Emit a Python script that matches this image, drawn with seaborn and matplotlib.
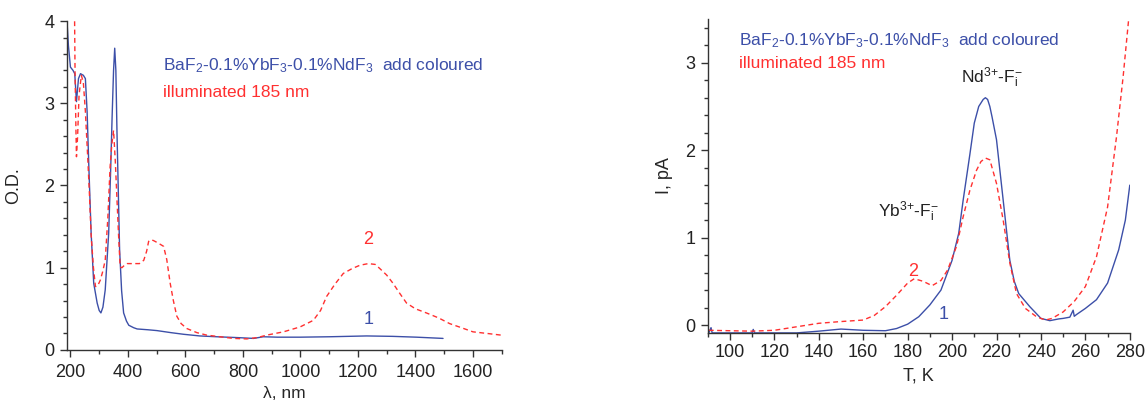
import numpy as np
import pandas as pd
import matplotlib
matplotlib.use("Agg")
import matplotlib.pyplot as plt
from matplotlib.ticker import MultipleLocator
import seaborn as sns

# Optical absorption spectra (O.D. vs wavelength)
wl_1 = [188, 193, 200, 209, 215, 221, 228, 235, 245, 252, 258, 264, 272, 281, 293, 300, 306,
        313, 321, 333, 340, 345, 350, 354, 358, 362, 371, 378, 385, 395, 403, 420, 432, 470,
        501, 550, 594, 650, 709, 780, 837, 871, 920, 999, 1100, 1230, 1320, 1404, 1496]
od_1 = [4.00, 3.70, 3.44, 3.40, 3.36, 3.02, 3.30, 3.36, 3.34, 3.30, 2.90, 2.23, 1.42, 0.81,
        0.57, 0.48, 0.45, 0.52, 0.73, 1.42, 2.20, 2.84, 3.40, 3.67, 3.40, 2.63, 1.22, 0.72,
        0.45, 0.35, 0.30, 0.27, 0.255, 0.245, 0.235, 0.21, 0.19, 0.17, 0.16, 0.15, 0.14, 0.16,
        0.155, 0.155, 0.16, 0.17, 0.165, 0.155, 0.14]

wl_2 = [214, 216, 219, 221, 225, 230, 238, 245, 252, 260, 266, 272, 280, 287, 295, 304, 312,
        321, 330, 338, 344, 350, 356, 362, 368, 373, 379, 388, 397, 420, 440, 455, 465, 472,
        480, 489, 505, 524, 535, 547, 558, 570, 585, 605, 640, 674, 720, 767, 813, 850, 883,
        941, 999, 1045, 1070, 1091, 1120, 1149, 1180, 1207, 1236, 1260, 1276, 1300, 1322, 1345,
        1369, 1400, 1438, 1480, 1519, 1560, 1600, 1650, 1698]
od_2 = [4.20, 3.40, 2.70, 2.35, 2.60, 3.10, 3.34, 3.25, 2.90, 2.35, 1.90, 1.40, 1.00, 0.77,
        0.78, 0.85, 0.95, 1.09, 1.60, 2.23, 2.50, 2.67, 2.30, 1.82, 1.35, 1.01, 1.00, 1.03,
        1.05, 1.05, 1.05, 1.09, 1.20, 1.32, 1.34, 1.33, 1.30, 1.26, 1.10, 0.81, 0.60, 0.41,
        0.32, 0.26, 0.21, 0.18, 0.16, 0.14, 0.134, 0.15, 0.18, 0.22, 0.28, 0.36, 0.48, 0.65,
        0.80, 0.93, 0.99, 1.03, 1.05, 1.04, 0.99, 0.91, 0.81, 0.69, 0.57, 0.50, 0.45, 0.39,
        0.32, 0.27, 0.22, 0.20, 0.18]

# Thermally stimulated depolarisation current (I vs T)
t_1 = [90.5, 91.5, 92, 95, 100, 105, 110, 110.5, 111, 115, 120, 130, 140, 150, 160, 170, 175,
       180, 185, 190, 195, 200, 203, 205, 208, 210, 212, 214, 215, 216, 217, 218, 220, 223,
       226, 228, 230, 235, 240, 244, 248, 250, 253, 254.5, 255, 256, 260, 265, 270, 275, 278,
       280]
i_1 = [-0.09, -0.03, -0.09, -0.09, -0.09, -0.09, -0.09, -0.05, -0.09, -0.09, -0.09, -0.09,
       -0.07, -0.046, -0.06, -0.065, -0.04, 0.01, 0.095, 0.23, 0.40, 0.74, 1.05, 1.43, 1.95,
       2.31, 2.50, 2.58, 2.60, 2.58, 2.50, 2.38, 2.12, 1.43, 0.74, 0.50, 0.36, 0.21, 0.076,
       0.05, 0.07, 0.076, 0.09, 0.17, 0.10, 0.12, 0.19, 0.29, 0.48, 0.86, 1.20, 1.60]

t_2 = [90.5, 100, 110, 120, 130, 140, 150, 160, 165, 170, 175, 180, 183, 187, 191, 195, 198,
       202, 205, 208, 211, 213, 215, 217, 220, 223, 226, 229, 233, 238, 242, 245, 250, 255,
       260, 265, 270, 274, 277, 279.5]
i_2 = [-0.06, -0.065, -0.07, -0.06, -0.02, 0.02, 0.04, 0.057, 0.11, 0.21, 0.34, 0.48, 0.53,
       0.50, 0.45, 0.51, 0.63, 0.90, 1.24, 1.54, 1.77, 1.87, 1.91, 1.89, 1.62, 1.20, 0.71, 0.36,
       0.19, 0.095, 0.057, 0.076, 0.15, 0.27, 0.44, 0.78, 1.35, 2.15, 2.84, 3.50]

legend_line1 = r"BaF$_2$-0.1%YbF$_3$-0.1%NdF$_3$  add coloured"
legend_line2 = "illuminated 185 nm"
label_nd = r"Nd$^{3{+}}$-F$_{\mathrm{i}}^{-}$"
label_yb = r"Yb$^{3{+}}$-F$_{\mathrm{i}}^{-}$"

BLUE = "#3c4fa8"
RED = "#ff3030"
DASH = (0, (3.5, 2.5))

sns.set_theme(style="ticks")
plt.rcParams["font.family"] = ["Liberation Sans", "DejaVu Sans"]
plt.rcParams["mathtext.fontset"] = "custom"
plt.rcParams["mathtext.rm"] = "Liberation Sans"
plt.rcParams["mathtext.it"] = "Liberation Sans:italic"
plt.rcParams["axes.linewidth"] = 1.0
plt.rcParams["axes.edgecolor"] = "#333333"

fig = plt.figure(figsize=(11.47, 4.05), dpi=100)
ax1 = fig.add_axes([0.0584, 0.136, 0.379, 0.812])
ax2 = fig.add_axes([0.617, 0.178, 0.368, 0.775])

spec1 = pd.DataFrame({"wl": wl_1, "od": od_1})
spec2 = pd.DataFrame({"wl": wl_2, "od": od_2})
tsd1 = pd.DataFrame({"T": t_1, "I": i_1})
tsd2 = pd.DataFrame({"T": t_2, "I": i_2})

sns.lineplot(data=spec1, x="wl", y="od", ax=ax1, color=BLUE, lw=1.0,
             estimator=None, sort=False)
sns.lineplot(data=spec2, x="wl", y="od", ax=ax1, color=RED, lw=1.0,
             linestyle=DASH, estimator=None, sort=False)
sns.lineplot(data=tsd1, x="T", y="I", ax=ax2, color=BLUE, lw=1.0,
             estimator=None, sort=False)
sns.lineplot(data=tsd2, x="T", y="I", ax=ax2, color=RED, lw=1.0,
             linestyle=DASH, estimator=None, sort=False)

# Left panel axes
ax1.set_xlim(188, 1700)
ax1.set_ylim(0, 4)
ax1.xaxis.set_major_locator(MultipleLocator(200))
ax1.xaxis.set_minor_locator(MultipleLocator(100))
ax1.yaxis.set_major_locator(MultipleLocator(1))
ax1.yaxis.set_minor_locator(MultipleLocator(0.2))
ax1.set_xlabel("λ, nm", fontsize=12.5, labelpad=4)
ax1.set_ylabel("O.D.", fontsize=13, labelpad=16)

# Right panel axes
ax2.set_xlim(90, 280)
ax2.set_ylim(-0.09, 3.5)
ax2.xaxis.set_major_locator(MultipleLocator(20))
ax2.xaxis.set_minor_locator(MultipleLocator(10))
ax2.yaxis.set_major_locator(MultipleLocator(1))
ax2.yaxis.set_minor_locator(MultipleLocator(0.2))
ax2.set_xlabel("T, K", fontsize=13, labelpad=5)
ax2.set_ylabel("I, pA", fontsize=13, labelpad=9)

for ax in (ax1, ax2):
    sns.despine(ax=ax)
    ax.tick_params(which="major", direction="out", length=5, width=1.0,
                   labelsize=13, colors="#333333", labelcolor="#222222")
    ax.tick_params(which="minor", direction="out", length=3, width=1.0, colors="#333333")
    ax.tick_params(axis="y", pad=4)
ax1.tick_params(axis="x", pad=5)
ax2.tick_params(axis="x", pad=3)

# Annotations, left panel
ax1.text(0.142, 0.827, legend_line1, transform=fig.transFigure, fontsize=12.5,
         color=BLUE, va="baseline")
ax1.text(0.142, 0.760, legend_line2, transform=fig.transFigure, fontsize=12.5,
         color=RED, va="baseline")
ax1.text(1237, 1.34, "2", fontsize=13, color=RED, ha="center", va="center")
ax1.text(1237, 0.365, "1", fontsize=13, color=BLUE, ha="center", va="center")

# Annotations, right panel
ax2.text(0.644, 0.889, legend_line1, transform=fig.transFigure, fontsize=12.5,
         color=BLUE, va="baseline")
ax2.text(0.644, 0.832, legend_line2, transform=fig.transFigure, fontsize=12.5,
         color=RED, va="baseline")
ax2.text(218, 2.83, label_nd, fontsize=12.5, color="#222222", ha="center", va="center")
ax2.text(180.5, 1.29, label_yb, fontsize=12.5, color="#222222", ha="center", va="center")
ax2.text(182.3, 0.61, "2", fontsize=13, color=RED, ha="center", va="center")
ax2.text(196, 0.115, "1", fontsize=13, color=BLUE, ha="center", va="center")

fig.savefig("out.png", dpi=100, facecolor="white")
